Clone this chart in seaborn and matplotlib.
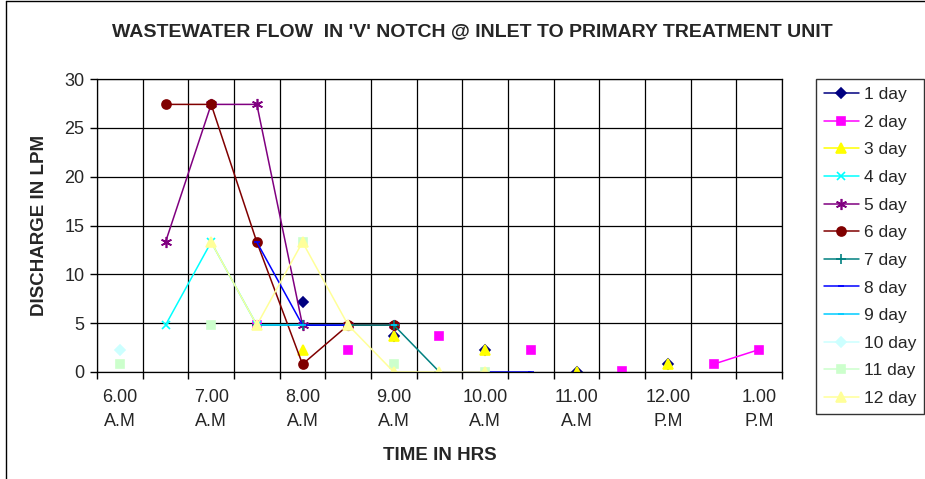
import numpy as np
import pandas as pd
import seaborn as sns
import matplotlib.pyplot as plt
from matplotlib.lines import Line2D

# Dados (NaN = sem leitura)
horarios = ['6.00', '6.30', '7.00', '7.30', '8.00', '8.30', '9.00', '9.30',
            '10.00', '10.30', '11.00', '11.30', '12.00', '12.30', '1.00']
rotulos_x = ['6.00\nA.M', '7.00\nA.M', '8.00\nA.M', '9.00\nA.M',
             '10.00\nA.M', '11.00\nA.M', '12.00\nP.M', '1.00\nP.M']
n = np.nan

dia_1 = [n, n, n, n, 7.2, n, 3.7, n, 2.3, n, 0.0, n, 0.8, n, n]
dia_2 = [n, n, n, 4.8, n, 2.3, n, 3.7, n, 2.3, n, 0.1, n, 0.8, 2.3]
dia_3 = [n, n, n, n, 2.3, n, 3.7, n, 2.3, n, 0.0, n, 0.8, n, n]
dia_4 = [n, 4.8, 13.3, 4.8, n, n, n, n, n, n, n, n, n, n, n]
dia_5 = [n, 13.3, 27.4, 27.4, 4.8, 4.8, 4.8, n, n, n, n, n, n, n, n]
dia_6 = [n, 27.4, 27.4, 13.3, 0.8, 4.8, 4.8, n, n, n, n, n, n, n, n]
dia_7 = [n, n, n, 4.8, 4.8, 4.8, 4.8, 0.0, n, n, n, n, n, n, n]
dia_8 = [n, n, n, 13.3, 4.8, 4.8, n, 0.0, 0.0, 0.0, n, n, n, n, n]
dia_9 = [0.8, n, n, 4.8, 4.8, n, 4.8, n, n, n, n, n, n, n, n]
dia_10 = [2.3, n, n, n, n, n, n, n, n, n, n, n, n, n, n]
dia_11 = [0.8, n, 4.8, n, 13.3, n, 0.8, n, 0.0, n, n, n, n, n, n]
dia_12 = [n, n, 13.3, 4.8, 13.3, 4.8, 0.0, 0.0, 0.0, n, n, n, n, n, n]

series = [dia_1, dia_2, dia_3, dia_4, dia_5, dia_6,
          dia_7, dia_8, dia_9, dia_10, dia_11, dia_12]
nomes = [f'{i} day' for i in range(1, 13)]
cores = ['#000080', '#FF00FF', '#FFFF00', '#00FFFF', '#800080', '#800000',
         '#008080', '#0000FF', '#00CCFF', '#CCFFFF', '#CCFFCC', '#FFFF99']
marcadores = ['D', 's', '^', 'x', (6, 2, 0), 'o', '+', '_', '_', 'D', 's', '^']
tamanhos = [5.5, 6, 6.5, 6, 8, 6.5, 7, 5, 5, 5.5, 6, 6.5]

sns.set_style('white')
plt.rcParams['font.family'] = ['Liberation Sans', 'DejaVu Sans']

fig = plt.figure(figsize=(9.25, 4.79), dpi=100)
ax = fig.add_axes([97 / 925, 1 - 372 / 479, (782 - 97) / 925, (372 - 79) / 479])

pos = np.arange(len(horarios))
handles = []
for vals, nome, cor, mk, ms in zip(series, nomes, cores, marcadores, tamanhos):
    df = pd.DataFrame({'x': pos, 'y': vals})
    # quebra em trechos contínuos para não ligar pontos através de lacunas
    grupo = df['y'].isna().cumsum()
    for _, trecho in df.dropna().groupby(grupo[df['y'].notna()]):
        sns.lineplot(data=trecho, x='x', y='y', ax=ax, color=cor, marker=mk,
                     markersize=ms, markeredgecolor=cor, markeredgewidth=1.2,
                     linewidth=1.1, legend=False)
    handles.append(Line2D([], [], color=cor, marker=mk, markersize=ms,
                          markeredgecolor=cor, markeredgewidth=1.2,
                          linewidth=1.1, label=nome))

ax.set_xlim(-0.5, len(horarios) - 0.5)
ax.set_ylim(0, 30)
ax.set_yticks(range(0, 31, 5))
ax.set_xticks(pos[::2])
ax.set_xticklabels(rotulos_x, linespacing=1.6)
ax.set_xticks(np.arange(-0.5, len(horarios), 1), minor=True)
ax.tick_params(axis='x', which='major', length=0, pad=12, labelsize=13)
ax.tick_params(axis='x', which='minor', length=5, width=1, color='black',
               direction='out', bottom=True)
ax.tick_params(axis='y', length=5, width=1, color='black', direction='out',
               left=True, labelsize=13, pad=4)
ax.grid(True, which='minor', axis='x', color='black', linewidth=0.9)
ax.grid(True, which='major', axis='y', color='black', linewidth=0.9)
for s in ax.spines.values():
    s.set_color('black')
    s.set_linewidth(0.9)

ax.set_xlabel('TIME IN HRS', fontsize=13.5, fontweight='bold', labelpad=12)
ax.set_ylabel('DISCHARGE IN LPM', fontsize=13.5, fontweight='bold', labelpad=12)
fig.text(472 / 925, 1 - 32 / 479,
         "WASTEWATER FLOW  IN 'V' NOTCH @ INLET TO PRIMARY TREATMENT UNIT",
         ha='center', va='center', fontsize=14, fontweight='bold')

leg = fig.legend(handles=handles, loc='upper left',
                 bbox_to_anchor=(816 / 925, 1 - 79 / 479), fontsize=12.5,
                 frameon=True, fancybox=False, edgecolor='black',
                 labelspacing=0.72, handlelength=2.0, handletextpad=0.3,
                 borderpad=0.45, borderaxespad=0)
leg.get_frame().set_linewidth(1)

# moldura da área do gráfico
fig.add_artist(Line2D([6 / 925, 6 / 925], [0, 1 - 1 / 479], color='black', lw=1,
                      transform=fig.transFigure))
fig.add_artist(Line2D([6 / 925, 1], [1 - 1 / 479, 1 - 1 / 479], color='black',
                      lw=1, transform=fig.transFigure))

fig.savefig('out.png', dpi=100)
